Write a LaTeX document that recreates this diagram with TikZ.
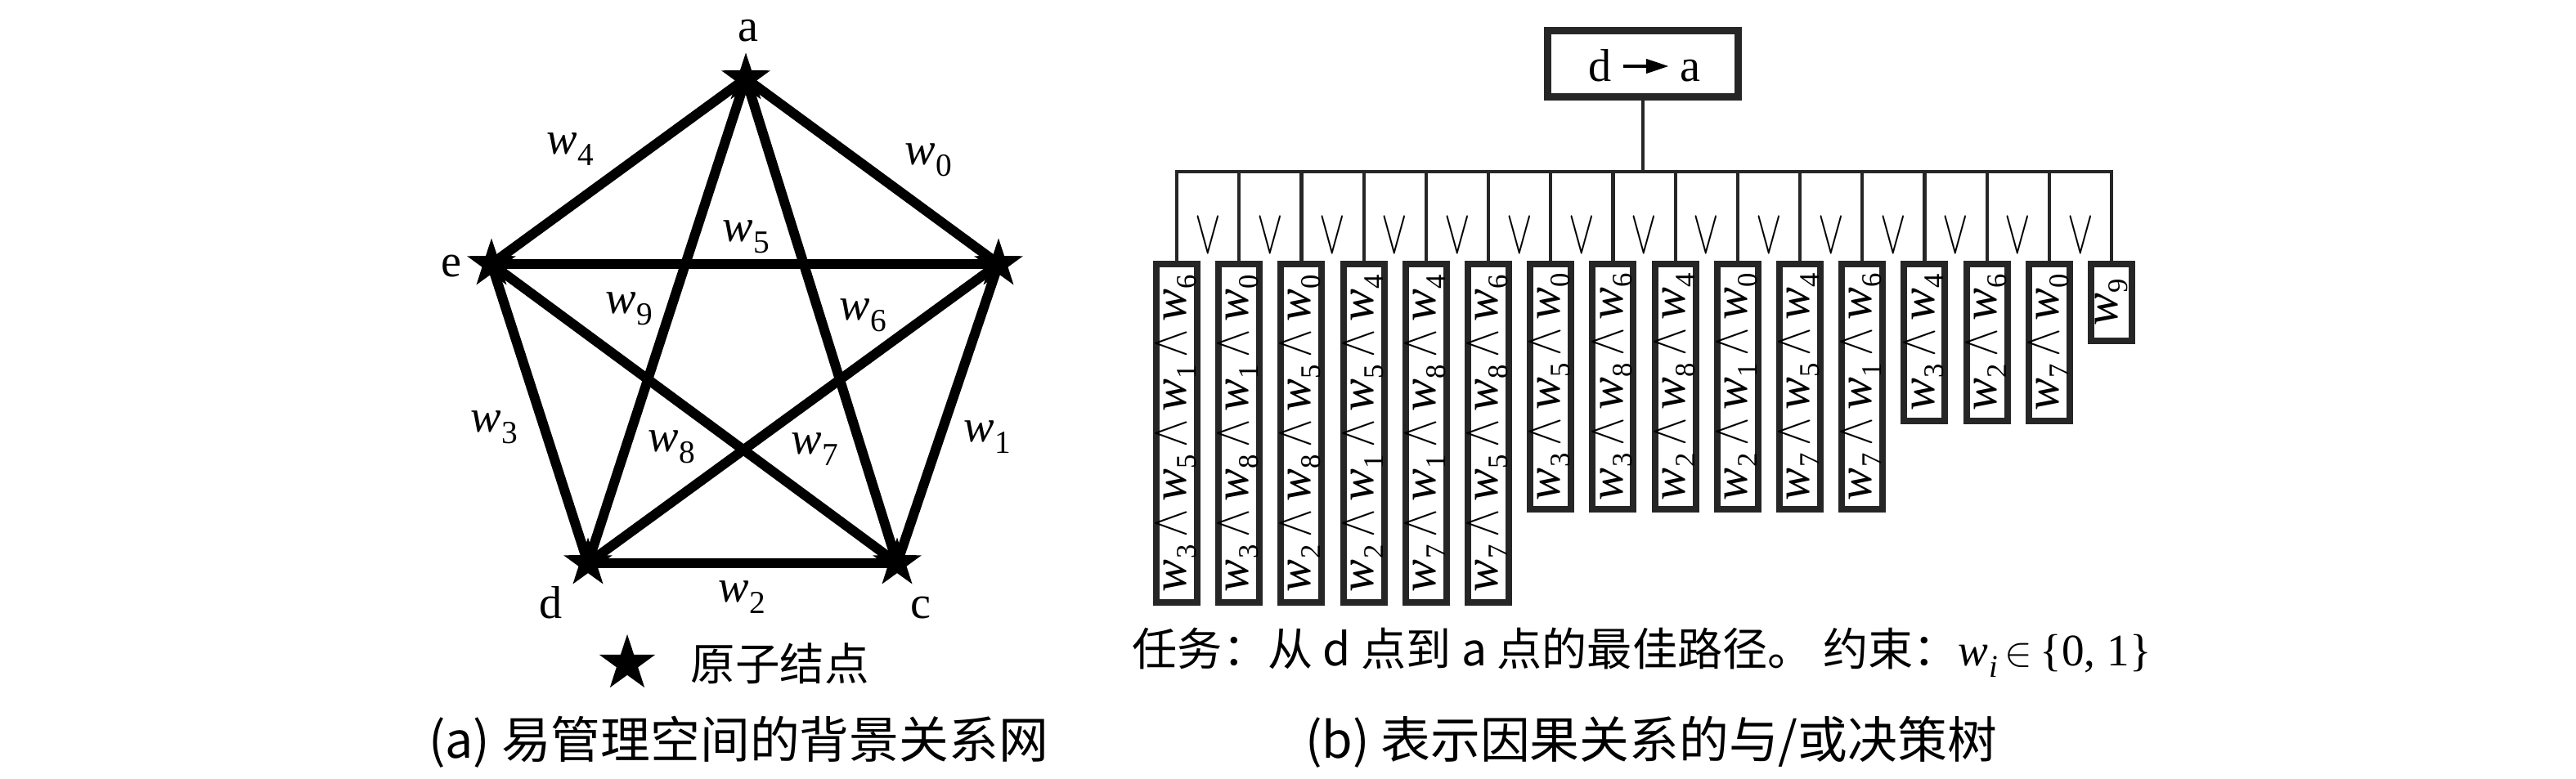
\documentclass[tikz,border=0pt]{standalone}
\usepackage{fontspec}
\setmainfont{Liberation Serif}
\newfontfamily\cjk{Noto Sans CJK SC}
\usetikzlibrary{shapes.geometric,arrows.meta,calc}
\newcommand\ww[1]{{\itshape w}\kern0.01em\raisebox{-0.25em}{\scalebox{0.7}{#1}}}
\newcommand\wb[1]{{\itshape w}\kern0.01em\raisebox{-0.2em}{\scalebox{0.58}{#1}}}
\newcommand\aand{\hspace{0.15em}\scalebox{0.85}[1.05]{$\wedge$}\hspace{0.15em}}
\tikzset{
  edge/.style={line width=3.4pt, black},
  vtx/.style={star, star points=5, star point ratio=2.6, fill=black, inner sep=0pt, minimum size=0.63cm},
  lbl/.style={font=\fontsize{16}{18}\selectfont, inner sep=0pt},
  tline/.style={line width=1.2pt, black!85},
  leaf/.style={draw=black!85, line width=2.3pt, rotate=90, anchor=east, minimum height=0.5cm, inner sep=0pt, font=\fontsize{17}{20}\selectfont},
  orv/.style={font=\fontsize{20}{24}\selectfont, inner sep=0pt},
  captxt/.style={font=\cjk\fontsize{17.3}{20}\selectfont, inner sep=0pt},
}
\begin{document}
\begin{tikzpicture}
\useasboundingbox (0,0) rectangle (31.5,-9.53);
% ---------- (a) network ----------
\coordinate (A) at (9.12,-0.96);
\coordinate (E) at (6.01,-3.23);
\coordinate (B) at (12.21,-3.23);
\coordinate (D) at (7.19,-6.89);
\coordinate (C) at (10.97,-6.89);
\draw[edge] (A) -- (E);
\draw[edge] (A) -- (B);
\draw[edge] (E) -- (B);
\draw[edge] (E) -- (D);
\draw[edge] (B) -- (C);
\draw[edge] (D) -- (C);
\draw[edge] (A) -- (D);
\draw[edge] (A) -- (C);
\draw[edge] (E) -- (C);
\draw[edge] (B) -- (D);
\node[vtx] (sA) at (A) {};
\node[vtx] (sE) at (E) {};
\node[vtx] (sB) at (B) {};
\node[vtx] (sD) at (D) {};
\node[vtx] (sC) at (C) {};
\node[lbl] (la) at (9.15,-0.38) {a};
\node[lbl] (le) at (5.52,-3.26) {e};
\node[lbl] (ld) at (6.74,-7.37) {d};
\node[lbl] (lc) at (11.26,-7.44) {c};
\node[lbl] (w4) at (6.97,-1.83) {\ww{4}};
\node[lbl] (w0) at (11.35,-1.96) {\ww{0}};
\node[lbl] (w5) at (9.12,-2.90) {\ww{5}};
\node[lbl] (w9) at (7.69,-3.78) {\ww{9}};
\node[lbl] (w6) at (10.55,-3.86) {\ww{6}};
\node[lbl] (w3) at (6.04,-5.23) {\ww{3}};
\node[lbl] (w8) at (8.21,-5.47) {\ww{8}};
\node[lbl] (w7) at (9.96,-5.50) {\ww{7}};
\node[lbl] (w1) at (12.07,-5.35) {\ww{1}};
\node[lbl] (w2) at (9.07,-7.31) {\ww{2}};
\node[vtx, minimum size=0.72cm] (lstar) at (7.67,-8.12) {};
\node[inner sep=0pt, font=\cjk\fontsize{15.5}{18}\selectfont, anchor=west] (ltext) at (8.44,-8.12) {原子结点};
\node[captxt] (capa) at (9.03,-9.08) {(a) 易管理空间的背景关系网};
% ---------- (b) tree ----------
\node[draw=black!85, line width=2.3pt, minimum width=2.33cm, minimum height=0.81cm, inner sep=0pt] (root) at (20.09,-0.78) {};
\node[lbl, anchor=base, text height=0.38cm, text depth=0pt, inner xsep=0.13cm] (rd) at (19.57,-1.00) {d};
\node[lbl, anchor=base, text height=0.38cm, text depth=0pt, inner xsep=0.13cm] (ra) at (20.67,-1.00) {a};
\draw[line width=1.3pt, -{Triangle[length=0.28cm, width=0.17cm]}] (rd.east) -- (ra.west);
\foreach \i/\x in {1/14.39,2/15.152,3/15.914,4/16.676,5/17.438,6/18.2,7/18.962,8/19.724,9/20.486,10/21.248,11/22.01,12/22.772,13/23.534,14/24.296,15/25.058,16/25.82}
  \coordinate (t\i) at (\x,-2.10);
\node[leaf, minimum width=4.14cm] (L1) at (14.39,-3.19) {\wb3\aand\wb5\aand\wb1\aand\wb6};
\node[leaf, minimum width=4.14cm] (L2) at (15.152,-3.19) {\wb3\aand\wb8\aand\wb1\aand\wb0};
\node[leaf, minimum width=4.14cm] (L3) at (15.914,-3.19) {\wb2\aand\wb8\aand\wb5\aand\wb0};
\node[leaf, minimum width=4.14cm] (L4) at (16.676,-3.19) {\wb2\aand\wb1\aand\wb5\aand\wb4};
\node[leaf, minimum width=4.14cm] (L5) at (17.438,-3.19) {\wb7\aand\wb1\aand\wb8\aand\wb4};
\node[leaf, minimum width=4.14cm] (L6) at (18.2,-3.19) {\wb7\aand\wb5\aand\wb8\aand\wb6};
\node[leaf, minimum width=3.00cm] (L7) at (18.962,-3.19) {\wb3\aand\wb5\aand\wb0};
\node[leaf, minimum width=3.00cm] (L8) at (19.724,-3.19) {\wb3\aand\wb8\aand\wb6};
\node[leaf, minimum width=3.00cm] (L9) at (20.486,-3.19) {\wb2\aand\wb8\aand\wb4};
\node[leaf, minimum width=3.00cm] (L10) at (21.248,-3.19) {\wb2\aand\wb1\aand\wb0};
\node[leaf, minimum width=3.00cm] (L11) at (22.01,-3.19) {\wb7\aand\wb5\aand\wb4};
\node[leaf, minimum width=3.00cm] (L12) at (22.772,-3.19) {\wb7\aand\wb1\aand\wb6};
\node[leaf, minimum width=1.92cm] (L13) at (23.534,-3.19) {\wb3\aand\wb4};
\node[leaf, minimum width=1.92cm] (L14) at (24.296,-3.19) {\wb2\aand\wb6};
\node[leaf, minimum width=1.92cm] (L15) at (25.058,-3.19) {\wb7\aand\wb0};
\node[leaf, minimum width=0.94cm] (L16) at (25.82,-3.19) {\wb9};
\draw[tline] (root.south) -- (root.south |- t1);
\draw[tline, line cap=rect] (t1) -- (t16);
\foreach \i in {1,...,16} \draw[tline] (t\i) -- (L\i.east);
\foreach \i in {0,...,14}
  \node[orv] (or\i) at ({14.771+0.762*\i},-2.88) {\scalebox{0.65}[1.05]{$\vee$}};
\node[inner sep=0pt, anchor=west, font=\fontsize{15.7}{18}\selectfont] (task) at (13.84,-7.98)
  {{\cjk 任务：从 d 点到 a 点的最佳路径。 约束：}\ww{\textit{i}}\,$\in$\,\{0, 1\}};
\node[captxt] (capb) at (20.19,-9.08) {(b) 表示因果关系的与/或决策树};
\end{tikzpicture}
\end{document}
